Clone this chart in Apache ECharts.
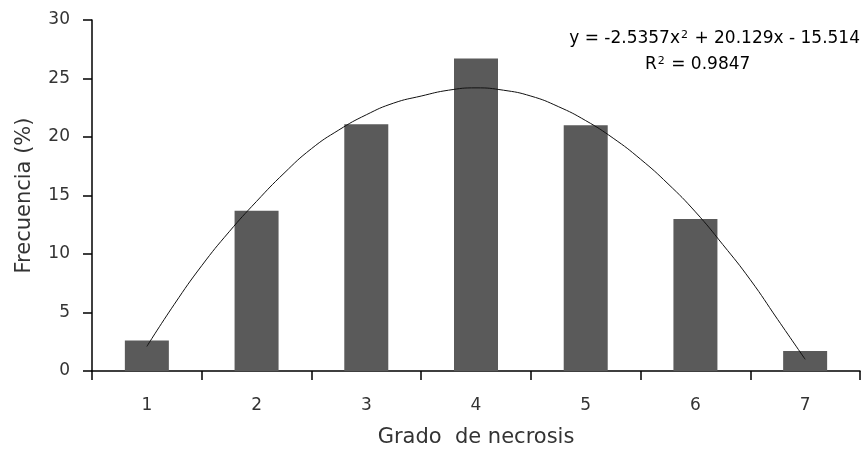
<!DOCTYPE html>
<html>
<head>
<meta charset="UTF-8">
<title>Grado de necrosis</title>
<script src="https://cdn.jsdelivr.net/npm/echarts@6/dist/echarts.min.js"></script>
<style>
  html, body { margin: 0; padding: 0; background: #fff; }
  #main { width: 867px; height: 451px; }
</style>
</head>
<body>
<div id="main"></div>
<script>
// categorias (grado de necrosis) y frecuencias (%)
var grados = ['1', '2', '3', '4', '5', '6', '7'];
var frecuencia = [2.6, 13.7, 21.1, 26.7, 21.0, 13.0, 1.7];

// linea de tendencia (x, y)
var tendenciaX = [1, 1.25, 1.5, 1.75, 2, 2.25, 2.5, 2.75, 3, 3.25, 3.5, 3.75, 4,
                  4.25, 4.5, 4.75, 5, 5.25, 5.5, 5.75, 6, 6.25, 6.5, 6.75, 7];
var tendenciaY = [2.1, 5.7, 9.0, 11.9, 14.5, 16.9, 19.0, 20.6, 21.9, 22.9, 23.5, 24.0, 24.2,
                  24.0, 23.5, 22.6, 21.4, 19.9, 18.1, 16.0, 13.6, 10.8, 7.8, 4.4, 1.0];

var yTicks = [0, 5, 10, 15, 20, 25, 30];

var font = 'DejaVu Sans';
var chart = echarts.init(document.getElementById('main'));

var option = {
  animation: false,
  textStyle: { fontFamily: font },
  grid: { left: 92, top: 20, right: 7, bottom: 80, outerBoundsMode: 'none', containLabel: false },
  xAxis: [{
    type: 'category',
    data: grados,
    boundaryGap: true,
    name: 'Grado  de necrosis',
    nameLocation: 'middle',
    nameGap: 56,
    nameTextStyle: { fontSize: 21, color: '#333', fontFamily: font },
    axisLine: { lineStyle: { color: '#000', width: 1.5 } },
    axisTick: { show: true, length: 9, lineStyle: { color: '#000', width: 1.5 } },
    axisLabel: { fontSize: 17, color: '#333', margin: 26 },
    splitLine: { show: false }
  }, {
    type: 'value',
    min: 0.5,
    max: 7.5,
    show: false
  }],
  yAxis: {
    type: 'value',
    min: yTicks[0],
    max: yTicks[yTicks.length - 1],
    interval: 5,
    name: 'Frecuencia (%)',
    nameLocation: 'middle',
    nameGap: 57,
    nameTextStyle: { fontSize: 21, color: '#333', fontFamily: font },
    axisLine: { show: true, lineStyle: { color: '#000', width: 1.5 } },
    axisTick: { show: true, length: 9, lineStyle: { color: '#000', width: 1.5 } },
    axisLabel: { fontSize: 17, color: '#333', margin: 22 },
    splitLine: { show: false }
  },
  series: [{
    type: 'bar',
    data: frecuencia,
    barWidth: 44,
    itemStyle: { color: '#5a5a5a' }
  }, {
    type: 'line',
    xAxisIndex: 1,
    data: tendenciaX.map(function (x, i) { return [x, tendenciaY[i]]; }),
    smooth: true,
    symbol: 'none',
    lineStyle: { color: '#111', width: 1 },
    z: 5
  }],
  graphic: [{
    type: 'text',
    right: 7,
    top: 30,
    style: {
      text: '{t|y = -2.5357x}{s|2}{t| + 20.129x - 15.514}',
      rich: {
        t: { fontSize: 17, fontFamily: font, color: '#222' },
        s: { fontSize: 11, fontFamily: font, color: '#222', verticalAlign: 'top', padding: [0, 1, 6, 1] }
      }
    }
  }, {
    type: 'text',
    left: 645,
    top: 56,
    style: {
      text: '{t|R}{s|2}{t| = 0.9847}',
      rich: {
        t: { fontSize: 17, fontFamily: font, color: '#222' },
        s: { fontSize: 11, fontFamily: font, color: '#222', verticalAlign: 'top', padding: [0, 1, 6, 1] }
      }
    }
  }]
};

chart.setOption(option);
</script>
</body>
</html>
